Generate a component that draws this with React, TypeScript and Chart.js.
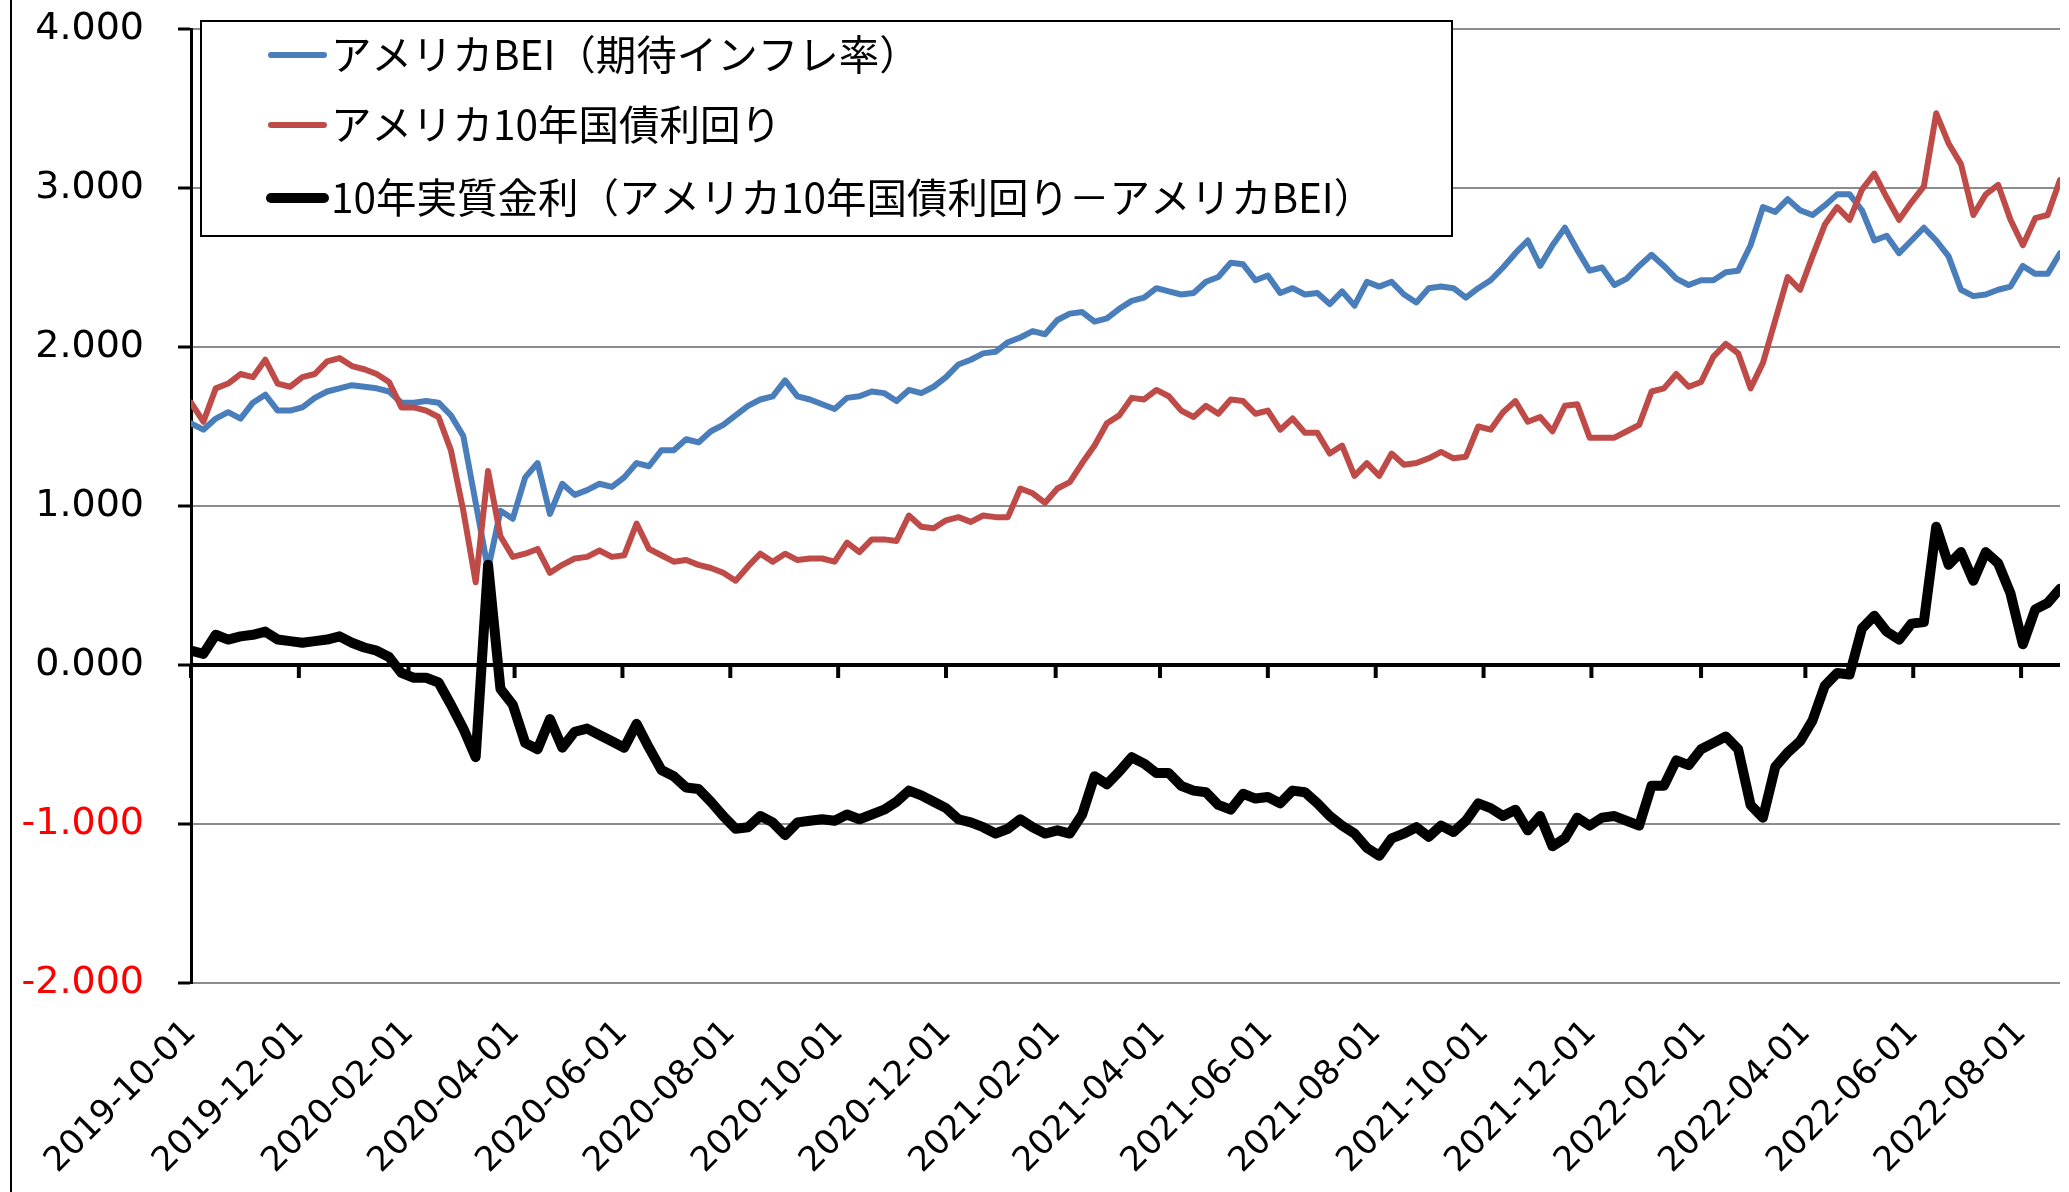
import React, { useEffect, useRef } from 'react';
import { Chart, registerables } from 'chart.js';

Chart.register(...registerables);

// ---- data (weekly observations starting 2019-10-01) ----
const START_DATE = '2019-10-01';
const OBS_STEP_DAYS = 7;

const seriesLabels = [
  'アメリカBEI（期待インフレ率）',
  'アメリカ10年国債利回り',
  '10年実質金利（アメリカ10年国債利回り－アメリカBEI）',
];

const bei = [
  1.52, 1.48, 1.55, 1.59, 1.55, 1.65, 1.70, 1.60, 1.60, 1.62,
  1.68, 1.72, 1.74, 1.76, 1.75, 1.74, 1.72, 1.65, 1.65, 1.66,
  1.65, 1.57, 1.44, 1.02, 0.60, 0.97, 0.92, 1.18, 1.27, 0.95,
  1.14, 1.07, 1.10, 1.14, 1.12, 1.18, 1.27, 1.25, 1.35, 1.35,
  1.42, 1.40, 1.47, 1.51, 1.57, 1.63, 1.67, 1.69, 1.79, 1.69,
  1.67, 1.64, 1.61, 1.68, 1.69, 1.72, 1.71, 1.66, 1.73, 1.71,
  1.75, 1.81, 1.89, 1.92, 1.96, 1.97, 2.03, 2.06, 2.10, 2.08,
  2.17, 2.21, 2.22, 2.16, 2.18, 2.24, 2.29, 2.31, 2.37, 2.35,
  2.33, 2.34, 2.41, 2.44, 2.53, 2.52, 2.42, 2.45, 2.34, 2.37,
  2.33, 2.34, 2.27, 2.35, 2.26, 2.41, 2.38, 2.41, 2.33, 2.28,
  2.37, 2.38, 2.37, 2.31, 2.37, 2.42, 2.50, 2.59, 2.67, 2.51,
  2.64, 2.75, 2.61, 2.48, 2.50, 2.39, 2.43, 2.51, 2.58, 2.51,
  2.43, 2.39, 2.42, 2.42, 2.47, 2.48, 2.64, 2.88, 2.85, 2.93,
  2.86, 2.83, 2.89, 2.96, 2.96, 2.86, 2.67, 2.70, 2.59, 2.67,
  2.75, 2.67, 2.57, 2.36, 2.32, 2.33, 2.36, 2.38, 2.51, 2.46,
  2.46, 2.59,
];

const yield10 = [
  1.65, 1.53, 1.74, 1.77, 1.83, 1.81, 1.92, 1.77, 1.75, 1.81,
  1.83, 1.91, 1.93, 1.88, 1.86, 1.83, 1.78, 1.62, 1.62, 1.60,
  1.56, 1.35, 0.97, 0.52, 1.22, 0.81, 0.68, 0.70, 0.73, 0.58,
  0.63, 0.67, 0.68, 0.72, 0.68, 0.69, 0.89, 0.73, 0.69, 0.65,
  0.66, 0.63, 0.61, 0.58, 0.53, 0.62, 0.70, 0.65, 0.70, 0.66,
  0.67, 0.67, 0.65, 0.77, 0.71, 0.79, 0.79, 0.78, 0.94, 0.87,
  0.86, 0.91, 0.93, 0.90, 0.94, 0.93, 0.93, 1.11, 1.08, 1.02,
  1.11, 1.15, 1.27, 1.38, 1.52, 1.57, 1.68, 1.67, 1.73, 1.69,
  1.60, 1.56, 1.63, 1.58, 1.67, 1.66, 1.58, 1.60, 1.48, 1.55,
  1.46, 1.46, 1.33, 1.38, 1.19, 1.27, 1.19, 1.33, 1.26, 1.27,
  1.30, 1.34, 1.30, 1.31, 1.50, 1.48, 1.59, 1.66, 1.53, 1.56,
  1.47, 1.63, 1.64, 1.43, 1.43, 1.43, 1.47, 1.51, 1.72, 1.74,
  1.83, 1.75, 1.78, 1.94, 2.02, 1.96, 1.74, 1.90, 2.17, 2.44,
  2.36, 2.57, 2.77, 2.88, 2.80, 2.99, 3.09, 2.94, 2.80, 2.91,
  3.01, 3.47, 3.28, 3.15, 2.83, 2.96, 3.02, 2.80, 2.64, 2.81,
  2.83, 3.05,
];

const realRate = [
  0.09, 0.07, 0.19, 0.16, 0.18, 0.19, 0.21, 0.16, 0.15, 0.14,
  0.15, 0.16, 0.18, 0.14, 0.11, 0.09, 0.05, -0.05, -0.08, -0.08,
  -0.11, -0.25, -0.40, -0.58, 0.63, -0.15, -0.25, -0.49, -0.53, -0.34,
  -0.52, -0.42, -0.40, -0.44, -0.48, -0.52, -0.37, -0.52, -0.66, -0.70,
  -0.77, -0.78, -0.86, -0.95, -1.03, -1.02, -0.95, -0.99, -1.07, -0.99,
  -0.98, -0.97, -0.98, -0.94, -0.97, -0.94, -0.91, -0.86, -0.79, -0.82,
  -0.86, -0.90, -0.97, -0.99, -1.02, -1.06, -1.03, -0.97, -1.02, -1.06,
  -1.04, -1.06, -0.94, -0.70, -0.75, -0.67, -0.58, -0.62, -0.68, -0.68,
  -0.76, -0.79, -0.80, -0.88, -0.91, -0.81, -0.84, -0.83, -0.87, -0.79,
  -0.80, -0.87, -0.95, -1.01, -1.06, -1.15, -1.20, -1.09, -1.06, -1.02,
  -1.08, -1.01, -1.05, -0.98, -0.87, -0.90, -0.95, -0.91, -1.04, -0.95,
  -1.14, -1.09, -0.96, -1.01, -0.96, -0.95, -0.98, -1.01, -0.76, -0.76,
  -0.60, -0.63, -0.53, -0.49, -0.45, -0.53, -0.88, -0.96, -0.64, -0.55,
  -0.48, -0.35, -0.13, -0.05, -0.06, 0.23, 0.31, 0.21, 0.16, 0.26,
  0.27, 0.87, 0.63, 0.71, 0.53, 0.71, 0.64, 0.45, 0.13, 0.35,
  0.39, 0.48,
];

const tickDates = [
  '2019-10-01', '2019-12-01', '2020-02-01', '2020-04-01', '2020-06-01', '2020-08-01',
  '2020-10-01', '2020-12-01', '2021-02-01', '2021-04-01', '2021-06-01', '2021-08-01',
  '2021-10-01', '2021-12-01', '2022-02-01', '2022-04-01', '2022-06-01', '2022-08-01',
];

const Y_MIN = -2;
const Y_MAX = 4;
const Y_STEP = 1;

const seriesColors = ['#4A7EBB', '#BE4B48', '#000000'];
const seriesWidths = [6, 6, 10];

// ---- helpers ----
const DAY_MS = 86400000;
const dayOf = (d: string) => Math.round((Date.parse(d) - Date.parse(START_DATE)) / DAY_MS);
const obsDays = bei.map((_, i) => i * OBS_STEP_DAYS);
const tickDays = tickDates.map(dayOf);
const toPoints = (vals: number[]) => vals.map((v, i) => ({ x: obsDays[i], y: v }));

const AXIS_FONT = 'DejaVu Sans';

const decorPlugin = {
  id: 'decor',
  beforeDatasetsDraw(chart: any) {
    const { ctx } = chart;
    const xs = chart.scales.x;
    const ys = chart.scales.y;
    const y0 = ys.getPixelForValue(0);
    ctx.save();
    ctx.strokeStyle = '#000';
    ctx.lineWidth = 4;
    tickDays.forEach((d) => {
      const px = xs.getPixelForValue(d);
      ctx.beginPath();
      ctx.moveTo(px, y0);
      ctx.lineTo(px, y0 + 13);
      ctx.stroke();
    });
    ctx.restore();
  },
  afterDraw(chart: any) {
    const { ctx } = chart;
    ctx.save();
    // outer frame left edge
    ctx.strokeStyle = '#000';
    ctx.lineWidth = 2;
    ctx.beginPath();
    ctx.moveTo(11, 0);
    ctx.lineTo(11, chart.height);
    ctx.stroke();

    // legend box
    const bx = 201, by = 21, bw = 1251, bh = 215;
    ctx.fillStyle = '#fff';
    ctx.fillRect(bx, by, bw, bh);
    ctx.lineWidth = 2;
    ctx.strokeStyle = '#000';
    ctx.strokeRect(bx, by, bw, bh);

    const rows = [55, 125, 198];
    ctx.font = '40.5px "Noto Sans CJK JP"';
    ctx.textBaseline = 'middle';
    ctx.textAlign = 'left';
    chart.data.datasets.forEach((ds: any, i: number) => {
      const y = rows[i];
      ctx.strokeStyle = ds.borderColor;
      ctx.lineWidth = i === 2 ? 10 : 6;
      ctx.lineCap = 'round';
      ctx.beginPath();
      ctx.moveTo(271, y);
      ctx.lineTo(324, y);
      ctx.stroke();
      ctx.fillStyle = '#000';
      ctx.fillText(ds.label, 331, y);
    });
    ctx.restore();
  },
};

export default function App() {
  const ref = useRef<HTMLCanvasElement | null>(null);

  useEffect(() => {
    if (!ref.current) return;
    const datasets = [bei, yield10, realRate].map((vals, i) => ({
      label: seriesLabels[i],
      data: toPoints(vals),
      borderColor: seriesColors[i],
      backgroundColor: seriesColors[i],
      borderWidth: seriesWidths[i],
      pointRadius: 0,
      tension: 0,
      fill: false,
      borderJoinStyle: 'round' as const,
      borderCapStyle: 'round' as const,
      order: 3 - i,
    }));

    const chart = new Chart(ref.current, {
      type: 'line',
      data: { datasets },
      options: {
        animation: false,
        responsive: false,
        maintainAspectRatio: false,
        layout: { padding: { left: 0, right: 9, top: 29, bottom: 0 } },
        plugins: { legend: { display: false }, tooltip: { enabled: false } },
        scales: {
          x: {
            type: 'linear',
            min: 0,
            max: obsDays[obsDays.length - 1],
            afterBuildTicks: (s: any) => {
              s.ticks = tickDays.map((v) => ({ value: v }));
            },
            afterFit: (s: any) => {
              s.height = 209;
              s.paddingLeft = 0;
              s.paddingRight = 0;
            },
            ticks: {
              autoSkip: false,
              minRotation: 45,
              maxRotation: 45,
              padding: 30,
              color: '#000',
              font: { family: AXIS_FONT, size: 34 },
              callback: (_v: any, i: number) => tickDates[i],
            },
            grid: { display: false, drawTicks: false },
            border: { display: false },
          },
          y: {
            min: Y_MIN,
            max: Y_MAX,
            afterFit: (s: any) => {
              s.width = 191;
              s.paddingTop = 0;
              s.paddingBottom = 0;
            },
            ticks: {
              stepSize: Y_STEP,
              padding: 34,
              font: { family: AXIS_FONT, size: 38 },
              color: (c: any) => (c.tick && c.tick.value < 0 ? '#FF0000' : '#000'),
              callback: (v: any) => Number(v).toFixed(3),
            },
            grid: {
              color: (c: any) => (c.tick && c.tick.value === 0 ? '#000' : '#8C8C8C'),
              lineWidth: (c: any) => (c.tick && c.tick.value === 0 ? 4 : 2),
              tickColor: '#000',
              tickWidth: 3,
              tickLength: 13,
            },
            border: { display: true, color: '#000', width: 3 },
          },
        },
      },
      plugins: [decorPlugin],
    });
    return () => chart.destroy();
  }, []);

  return (
    <div style={{ position: 'absolute', left: 0, top: 0, width: 2069, height: 1192, background: '#fff' }}>
      <canvas ref={ref} width={2069} height={1192} style={{ display: 'block' }} />
    </div>
  );
}
